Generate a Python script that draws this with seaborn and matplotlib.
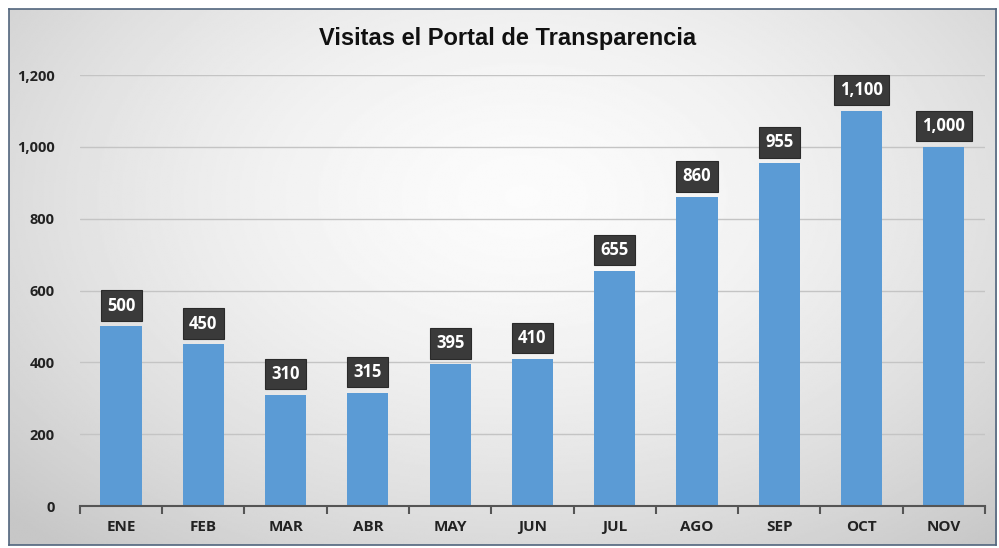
import matplotlib.pyplot as plt
import matplotlib.ticker as mticker
import numpy as np
import pandas as pd
import seaborn as sns

meses = ["ENE", "FEB", "MAR", "ABR", "MAY", "JUN", "JUL", "AGO", "SEP", "OCT", "NOV"]
visitas = [500, 450, 310, 315, 395, 410, 655, 860, 955, 1100, 1000]
y_ticks = [0, 200, 400, 600, 800, 1000, 1200]

sns.set_theme(style="white")
plt.rcParams["font.family"] = ["Open Sans", "DejaVu Sans"]

df = pd.DataFrame({"mes": meses, "visitas": visitas})

fig = plt.figure(figsize=(9.99, 5.48), dpi=100)
fig.patch.set_facecolor("white")

# radial gradient background of the chart frame
bg = fig.add_axes([0.009, 0.006, 0.988, 0.978], zorder=-10)
yy, xx = np.mgrid[0:1:300j, 0:1:600j]
dist = np.sqrt(((xx - 0.52) / 0.75) ** 2 + ((yy - 0.35) / 0.9) ** 2)
shade = np.clip(0.985 - 0.22 * dist ** 1.6, 0.78, 0.985)
bg.imshow(shade, cmap="gray", vmin=0, vmax=1, aspect="auto",
          extent=[0, 1, 0, 1], origin="upper")
bg.set_xticks([])
bg.set_yticks([])
for sp in bg.spines.values():
    sp.set_color("#51657d")
    sp.set_linewidth(1.2)

ax = fig.add_axes([0.080, 0.0766, 0.906, 0.7865])
ax.set_facecolor("none")
sns.barplot(data=df, x="mes", y="visitas", ax=ax, color="#5b9bd5",
            width=0.5, saturation=1, linewidth=0, zorder=3)

ax.set_ylim(0, 1200)
ax.set_xlim(-0.5, len(meses) - 0.5)
ax.set_yticks(y_ticks)
ax.yaxis.set_major_formatter(mticker.FuncFormatter(lambda v, _: f"{v:,.0f}"))
ax.yaxis.grid(True, color="#c4c4c4", linewidth=1, zorder=0)
ax.set_xlabel("")
ax.set_ylabel("")

for sp in ["top", "right", "left"]:
    ax.spines[sp].set_visible(False)
ax.spines["bottom"].set_color("#555555")
ax.spines["bottom"].set_linewidth(1.5)
ax.spines["bottom"].set_zorder(4)

ax.tick_params(axis="x", which="major", length=0, pad=10,
               labelsize=11, labelcolor="#222222")
ax.tick_params(axis="y", length=0, pad=18, labelsize=10.5, labelcolor="#222222")
for lbl in ax.get_xticklabels() + ax.get_yticklabels():
    lbl.set_fontweight("bold")
ax.xaxis.set_minor_locator(mticker.FixedLocator(np.arange(-0.5, len(meses), 1.0)))
ax.tick_params(axis="x", which="minor", length=6, width=1.5, color="#555555",
               direction="out", bottom=True)

for i, v in enumerate(visitas):
    ax.annotate(f"{v:,}", (i, v), xytext=(0, 15), textcoords="offset points",
                ha="center", va="center", color="white", fontsize=12,
                fontweight="bold", zorder=6, annotation_clip=False,
                bbox=dict(boxstyle="square,pad=0.38", facecolor="#3a3a3a",
                          edgecolor="#2a2a2a", linewidth=0.8))

fig.text(0.508, 0.930, "Visitas el Portal de Transparencia", ha="center",
         va="center", fontsize=17, fontweight="bold", color="#111111",
         family=["Liberation Sans", "DejaVu Sans"])

fig.savefig("out.png", dpi=100)
